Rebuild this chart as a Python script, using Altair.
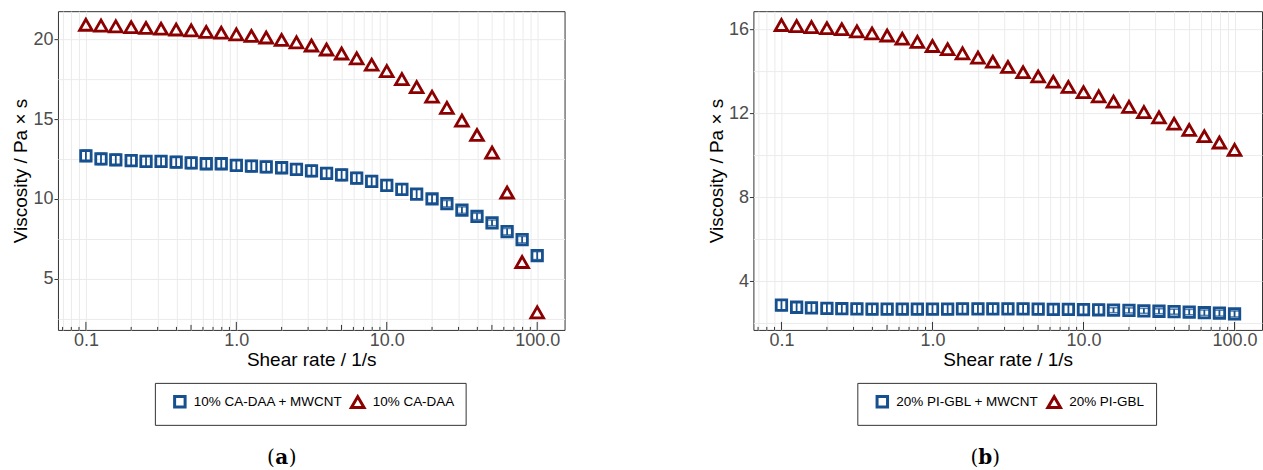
import altair as alt
import pandas as pd

# ---------------- data ----------------
shear_rate = [0.1, 0.126, 0.158, 0.2, 0.251, 0.316, 0.398, 0.501, 0.631, 0.794,
              1.0, 1.26, 1.58, 2.0, 2.51, 3.16, 3.98, 5.01, 6.31, 7.94,
              10.0, 12.6, 15.8, 20.0, 25.1, 31.6, 39.8, 50.1, 63.1, 79.4, 100.0]

a_labels = ["10% CA-DAA + MWCNT", "10% CA-DAA"]
a_mwcnt = [12.7, 12.5, 12.45, 12.4, 12.35, 12.35, 12.3, 12.25, 12.2, 12.2,
           12.1, 12.05, 12.0, 11.95, 11.85, 11.75, 11.6, 11.5, 11.3, 11.1,
           10.85, 10.6, 10.3, 10.0, 9.7, 9.3, 8.9, 8.5, 7.95, 7.45, 6.45]
a_mwcnt_err = [0.35, 0.35, 0.35, 0.35, 0.35, 0.35, 0.35, 0.35, 0.35, 0.35,
               0.35, 0.35, 0.35, 0.35, 0.35, 0.35, 0.35, 0.35, 0.35, 0.35,
               0.35, 0.35, 0.3, 0.25, 0.2, 0.2, 0.2, 0.18, 0.2, 0.2, 0.25]
a_pure = [20.9, 20.85, 20.8, 20.75, 20.7, 20.65, 20.6, 20.55, 20.45, 20.4,
          20.3, 20.2, 20.1, 19.95, 19.8, 19.6, 19.35, 19.1, 18.8, 18.4,
          18.0, 17.5, 17.0, 16.4, 15.7, 14.9, 14.0, 12.9, 10.4, 6.05, 2.9]

b_labels = ["20% PI-GBL + MWCNT", "20% PI-GBL"]
b_mwcnt = [2.85, 2.75, 2.72, 2.7, 2.68, 2.67, 2.66, 2.66, 2.66, 2.66,
           2.66, 2.66, 2.67, 2.67, 2.67, 2.67, 2.67, 2.66, 2.65, 2.65,
           2.64, 2.63, 2.61, 2.6, 2.58, 2.56, 2.54, 2.52, 2.49, 2.47, 2.43]
b_mwcnt_err = [0.25, 0.25, 0.25, 0.25, 0.25, 0.25, 0.25, 0.25, 0.25, 0.25,
               0.25, 0.25, 0.25, 0.25, 0.25, 0.25, 0.25, 0.25, 0.25, 0.25,
               0.25, 0.25, 0.12, 0.12, 0.12, 0.12, 0.12, 0.13, 0.13, 0.14, 0.14]
b_pure = [16.2, 16.15, 16.1, 16.05, 16.0, 15.9, 15.8, 15.7, 15.55, 15.4,
          15.2, 15.05, 14.85, 14.65, 14.45, 14.2, 13.95, 13.75, 13.5, 13.25,
          13.0, 12.8, 12.55, 12.3, 12.05, 11.8, 11.5, 11.2, 10.9, 10.6, 10.25]

# axis tick positions
x_major = [0.1, 1, 10, 100]
x_mid = [0.5, 5, 50]
x_minor = [0.07, 0.08, 0.09, 0.2, 0.3, 0.4, 0.6, 0.7, 0.8, 0.9,
           2, 3, 4, 6, 7, 8, 9, 20, 30, 40, 60, 70, 80, 90]
x_grid = sorted(x_major + x_mid + x_minor)

a_y_grid = [2.5, 5, 7.5, 10, 12.5, 15, 17.5, 20]
b_y_grid = [2, 4, 6, 8, 10, 12, 14, 16]

BLUE = "#17508E"
RED = "#8B0000"
FONT = "Liberation Sans"
H = 319


def panel(labels, sq, sq_err, tri, y_domain, y_grid, y_step, caption, legend_x, cap_x, width):
    df = pd.DataFrame({
        "shear": shear_rate + shear_rate,
        "visc": sq + tri,
        "series": [labels[0]] * len(sq) + [labels[1]] * len(tri),
    })
    err = pd.DataFrame({
        "shear": shear_rate,
        "lo": [v - e for v, e in zip(sq, sq_err)],
        "hi": [v + e for v, e in zip(sq, sq_err)],
    })
    xs = alt.Scale(type="log", domain=[0.0652, 152], nice=False)
    ys = alt.Scale(domain=y_domain, nice=False, zero=False)

    x_axis = alt.Axis(
        values=x_grid,
        labelExpr="datum.value == 0.1 ? '0.1' : datum.value == 1 ? '1.0' : "
                  "datum.value == 10 ? '10.0' : datum.value == 100 ? '100.0' : ''",
        title="Shear rate / 1/s", ticks=False, tickSize=0, domain=False,
        grid=True, gridColor="#EBEBEB", gridWidth=1,
        labelOverlap=False, labelFlush=False, labelPadding=2, titlePadding=1,
        labelFont=FONT, labelFontSize=18, labelColor="#4D4D4D",
        titleFont=FONT, titleFontSize=19, titleColor="black", titleFontWeight="normal",
    )
    y_axis = alt.Axis(
        values=y_grid,
        labelExpr=f"datum.value % {y_step} == 0 ? datum.value : ''",
        title="Viscosity / Pa × s", domain=False,
        tickSize=4, tickColor="#333333",
        tickOpacity={"condition": {"test": f"datum.value % {y_step} == 0", "value": 1}, "value": 0},
        grid=True, gridColor="#EBEBEB", gridWidth=1,
        labelOverlap=False, labelFlush=False, labelPadding=1, titlePadding=2,
        labelFont=FONT, labelFontSize=18, labelColor="#4D4D4D",
        titleFont=FONT, titleFontSize=19, titleColor="black", titleFontWeight="normal",
    )

    legend = alt.Legend(
        orient="none", legendX=legend_x, legendY=372, direction="horizontal",
        title=None, labelFont=FONT, labelFontSize=13.5, labelColor="black",
        symbolStrokeWidth=3, padding=11, strokeColor="#333333",
        symbolOffset=7, columnPadding=0, labelOffset=7, fillColor="white",
    )

    base = alt.Chart(df)
    points = base.mark_point(filled=False, strokeWidth=2.8, opacity=1).encode(
        x=alt.X("shear:Q", scale=xs, axis=x_axis),
        y=alt.Y("visc:Q", scale=ys, axis=y_axis),
        color=alt.Color("series:N", scale=alt.Scale(domain=labels, range=[BLUE, RED]), legend=legend),
        shape=alt.Shape("series:N", scale=alt.Scale(domain=labels, range=["square", "triangle-up"]), legend=legend),
        size=alt.Size("series:N", scale=alt.Scale(domain=labels, range=[110, 160]), legend=legend),
    )

    eb = alt.Chart(err)
    err_rule = eb.mark_rule(color=BLUE, strokeWidth=1.8).encode(
        x=alt.X("shear:Q", scale=xs), y=alt.Y("lo:Q", scale=ys), y2="hi:Q")
    cap_lo = eb.mark_tick(color=BLUE, orient="horizontal", size=9, thickness=1.6).encode(
        x=alt.X("shear:Q", scale=xs), y=alt.Y("lo:Q", scale=ys))
    cap_hi = eb.mark_tick(color=BLUE, orient="horizontal", size=9, thickness=1.6).encode(
        x=alt.X("shear:Q", scale=xs), y=alt.Y("hi:Q", scale=ys))

    def logticks(vals, length):
        return alt.Chart(pd.DataFrame({"t": vals})).mark_rule(color="#333333", strokeWidth=1).encode(
            x=alt.X("t:Q", scale=xs), y=alt.value(H), y2=alt.value(H - length))

    lt = logticks(x_major, 8) + logticks(x_mid, 5) + logticks(x_minor, 3)

    def captext(t, dx, align, weight):
        return alt.Chart(pd.DataFrame({"t": [t]})).mark_text(
            font="DejaVu Serif", fontSize=20, fontWeight=weight, align=align,
            baseline="middle", color="black").encode(
            x=alt.value(cap_x + dx), y=alt.value(447), text="t:N")

    cap = captext("(", -7, "right", "normal") + captext(caption, 0, "center", "bold") + \
        captext(")", 7, "left", "normal")

    return alt.layer(lt, points, err_rule, cap_lo, cap_hi, cap).properties(width=width, height=H)


left = panel(a_labels, a_mwcnt, a_mwcnt_err, a_pure, [1.8, 21.75], a_y_grid, 5,
             "a", 97, 224, 507)
right = panel(b_labels, b_mwcnt, b_mwcnt_err, b_pure, [1.67, 16.86], b_y_grid, 4,
              "b", 104, 232, 509)

chart = alt.hconcat(left, right, spacing=141).resolve_scale(
    x="independent", y="independent", color="independent",
    shape="independent", size="independent"
).resolve_legend(color="independent", shape="independent", size="independent").properties(
    padding={"left": 11, "top": 10, "right": 0, "bottom": 0}
).configure_view(stroke="#333333", strokeWidth=1)

chart.save("out.html", embed_options={"renderer": "svg", "actions": False})
